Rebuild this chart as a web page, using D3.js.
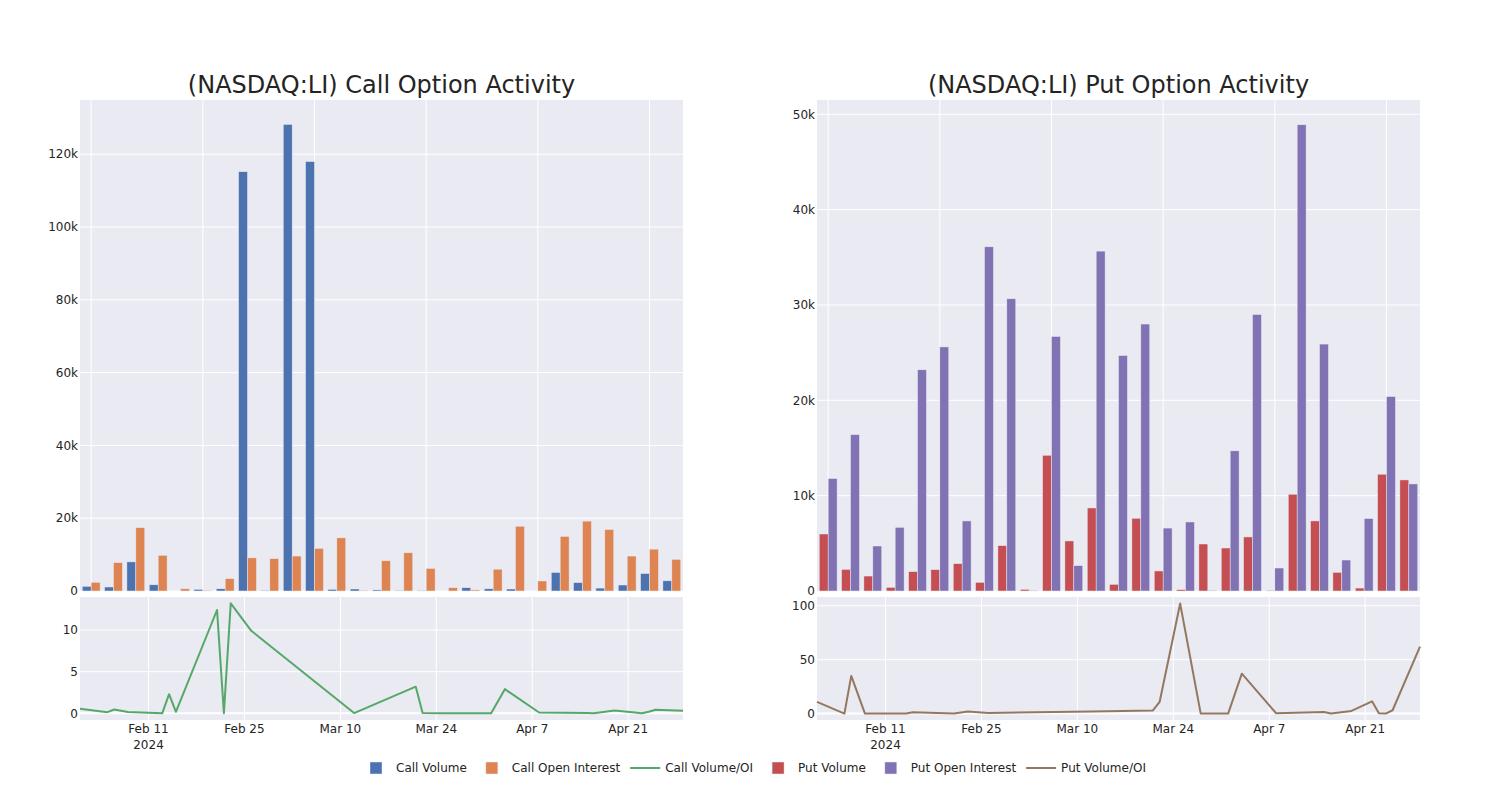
<!DOCTYPE html>
<html>
<head>
<meta charset="utf-8">
<script src="https://cdn.jsdelivr.net/npm/d3@7"></script>
<style>
  html, body { margin: 0; padding: 0; background: #fff; }
  svg { display: block; font-family: "DejaVu Sans", sans-serif; }
</style>
</head>
<body>
<svg id="chart" width="1500" height="800"></svg>
<script>
// ---------------- DATA ----------------
const dates = ["2024-02-01","2024-02-05","2024-02-06","2024-02-08","2024-02-13","2024-02-14","2024-02-15",
  "2024-02-21","2024-02-22","2024-02-23","2024-02-26","2024-03-12","2024-03-21","2024-03-22","2024-03-25",
  "2024-03-28","2024-04-01","2024-04-03","2024-04-08","2024-04-15","2024-04-16","2024-04-19","2024-04-22",
  "2024-04-23","2024-04-24","2024-04-25","2024-04-29"];

const callVolume = [1300,1100,8000,1700,0,450,600,115200,200,128200,118000,450,550,300,150,150,0,900,600,550,0,5100,2300,800,1650,4800,2800];
const callOpenInterest = [2400,7800,17400,9800,600,200,3400,9100,8900,9600,11700,14600,200,8300,10500,6200,900,300,6000,17800,2750,15000,19200,16900,9600,11500,8700];
const callVolOI = [0.55,0.14,0.46,0.15,0,2.3,0.18,12.4,0.02,13.2,9.9,0.03,3.2,0.04,0.01,0.02,0,2.9,0.1,0.03,0,0.33,0.1,0.02,0.2,0.42,0.32];

const putVolume = [5980,2270,1570,380,2030,2240,2870,910,4760,170,14240,5250,8710,700,7630,2100,140,4930,4510,5670,70,10150,7350,1960,310,12250,11650];
const putOpenInterest = [11800,16400,4720,6680,23200,25600,7350,36100,30650,70,26700,2660,35650,24700,28000,6600,7240,70,14700,29000,2410,48900,25900,3250,7600,20400,11230];
const putVolOI = [10.8,0,34.9,0,0,0,1.2,0,1.0,2.0,0.6,1.9,2.8,10.8,102,0,0,37,0.3,1.5,0,2.5,11.4,0.3,0,3.1,62];

const titles = ["(NASDAQ:LI) Call Option Activity", "(NASDAQ:LI) Put Option Activity"];
const dateTickLabels = ["Feb 11", "Feb 25", "Mar 10", "Mar 24", "Apr 7", "Apr 21"];
const dateTickValues = ["2024-02-11","2024-02-25","2024-03-10","2024-03-24","2024-04-07","2024-04-21"];
const callBarTicks = [0,20000,40000,60000,80000,100000,120000];
const putBarTicks = [0,10000,20000,30000,40000,50000];
const callLineTicks = [0,5,10];
const putLineTicks = [0,50,100];
const legendLabels = ["Call Volume","Call Open Interest","Call Volume/OI","Put Volume","Put Open Interest","Put Volume/OI"];

// ---------------- STYLE ----------------
const C = {
  callVol: "rgb(76,114,176)", callOI: "rgb(221,132,82)", callRatio: "rgb(85,168,104)",
  putVol: "rgb(196,78,82)", putOI: "rgb(129,114,179)", putRatio: "rgb(147,120,96)",
  bg: "rgb(234,234,242)", grid: "#ffffff", text: "rgb(36,36,36)"
};

const svg = d3.select("#chart");
const parse = d3.utcParse("%Y-%m-%d");
const dateObjs = dates.map(parse);

const barTop = 100, barBottom = 591, lineTop = 597, lineBottom = 720;

function panel(cfg) {
  const { x0, x1, vol, oi, ratio, colVol, colOI, colRatio, barMax, barTicks, lineDomain, lineTicks, title } = cfg;
  const g = svg.append("g");

  // ---- bar subplot ----
  g.append("rect").attr("x", x0).attr("y", barTop).attr("width", x1 - x0).attr("height", barBottom - barTop).attr("fill", C.bg);

  const xb = d3.scaleBand().domain(dates).range([x0, x1]).paddingInner(0.2).paddingOuter(0.1);
  const xc = d3.scaleBand().domain(dates).range([x0, x1]);
  const xs = d3.scaleBand().domain(["v","oi"]).range([0, xb.bandwidth()]);
  const yb = d3.scaleLinear().domain([0, barMax]).range([barBottom, barTop]);

  // vertical gridlines every 5 categories
  dates.forEach((d, i) => {
    if (i % 5 === 0) {
      const cx = xc(d) + xc.bandwidth() / 2;
      g.append("line").attr("x1", cx).attr("x2", cx).attr("y1", barTop).attr("y2", barBottom)
        .attr("stroke", C.grid).attr("stroke-width", 1);
    }
  });
  barTicks.forEach(t => {
    g.append("line").attr("x1", x0).attr("x2", x1).attr("y1", yb(t)).attr("y2", yb(t))
      .attr("stroke", C.grid).attr("stroke-width", 1);
    g.append("text").attr("x", x0 - 2).attr("y", yb(t)).attr("dy", "0.35em")
      .attr("text-anchor", "end").attr("font-size", 12).attr("fill", C.text)
      .text(t === 0 ? "0" : d3.format("~s")(t));
  });

  const series = [["v", vol, colVol], ["oi", oi, colOI]];
  series.forEach(([key, arr, col]) => {
    g.append("g").selectAll("rect").data(dates).join("rect")
      .attr("x", d => xb(d) + xs(key))
      .attr("width", xs.bandwidth())
      .attr("y", (d, i) => yb(arr[i]))
      .attr("height", (d, i) => Math.max(0, yb(0) - yb(arr[i])))
      .attr("fill", col)
      .attr("stroke", C.bg).attr("stroke-width", 0.5);
  });

  // ---- line subplot ----
  g.append("rect").attr("x", x0).attr("y", lineTop).attr("width", x1 - x0).attr("height", lineBottom - lineTop).attr("fill", C.bg);
  const xt = d3.scaleUtc().domain([parse("2024-02-01"), parse("2024-04-29")]).range([x0, x1]);
  const yl = d3.scaleLinear().domain(lineDomain).range([lineBottom, lineTop]);

  dateTickValues.forEach((dv, i) => {
    const px = xt(parse(dv));
    g.append("line").attr("x1", px).attr("x2", px).attr("y1", lineTop).attr("y2", lineBottom)
      .attr("stroke", C.grid).attr("stroke-width", 1);
    const t = g.append("text").attr("x", px).attr("y", 733).attr("text-anchor", "middle")
      .attr("font-size", 12).attr("fill", C.text).text(dateTickLabels[i]);
    if (i === 0) {
      g.append("text").attr("x", px).attr("y", 749).attr("text-anchor", "middle")
        .attr("font-size", 12).attr("fill", C.text).text("2024");
    }
  });
  lineTicks.forEach(t => {
    g.append("line").attr("x1", x0).attr("x2", x1).attr("y1", yl(t)).attr("y2", yl(t))
      .attr("stroke", C.grid).attr("stroke-width", t === 0 ? 2 : 1);
    g.append("text").attr("x", x0 - 2).attr("y", yl(t)).attr("dy", "0.35em")
      .attr("text-anchor", "end").attr("font-size", 12).attr("fill", C.text).text(t);
  });

  const line = d3.line().x((d, i) => xt(dateObjs[i])).y(d => yl(d));
  g.append("path").datum(ratio).attr("d", line).attr("fill", "none")
    .attr("stroke", colRatio).attr("stroke-width", 2).attr("stroke-linejoin", "round");

  // ---- title ----
  g.append("text").attr("x", (x0 + x1) / 2).attr("y", 93).attr("text-anchor", "middle")
    .attr("font-size", 24).attr("fill", C.text).text(title);
}

panel({ x0: 80, x1: 683, vol: callVolume, oi: callOpenInterest, ratio: callVolOI,
  colVol: C.callVol, colOI: C.callOI, colRatio: C.callRatio, barMax: 134900, barTicks: callBarTicks,
  lineDomain: [-0.8, 13.96], lineTicks: callLineTicks, title: titles[0] });

panel({ x0: 817, x1: 1420, vol: putVolume, oi: putOpenInterest, ratio: putVolOI,
  colVol: C.putVol, colOI: C.putOI, colRatio: C.putRatio, barMax: 51500, barTicks: putBarTicks,
  lineDomain: [-5.95, 108.1], lineTicks: putLineTicks, title: titles[1] });

// ---------------- LEGEND ----------------
const legendColors = [C.callVol, C.callOI, C.callRatio, C.putVol, C.putOI, C.putRatio];
const legendTypes = ["bar","bar","line","bar","bar","line"];
const lg = svg.append("g");
let cursor = 356;
legendLabels.forEach((lab, i) => {
  const item = lg.append("g");
  if (legendTypes[i] === "bar") {
    item.append("rect").attr("x", cursor + 14).attr("y", 762).attr("width", 12).attr("height", 12)
      .attr("fill", legendColors[i]).attr("stroke", C.bg).attr("stroke-width", 0.5);
  } else {
    item.append("line").attr("x1", cursor + 5).attr("x2", cursor + 35).attr("y1", 768).attr("y2", 768)
      .attr("stroke", legendColors[i]).attr("stroke-width", 2);
  }
  const t = item.append("text").attr("x", cursor + 40).attr("y", 772).attr("font-size", 12)
    .attr("fill", C.text).text(lab);
  cursor += 40 + t.node().getComputedTextLength() + 5;
});
</script>
</body>
</html>
